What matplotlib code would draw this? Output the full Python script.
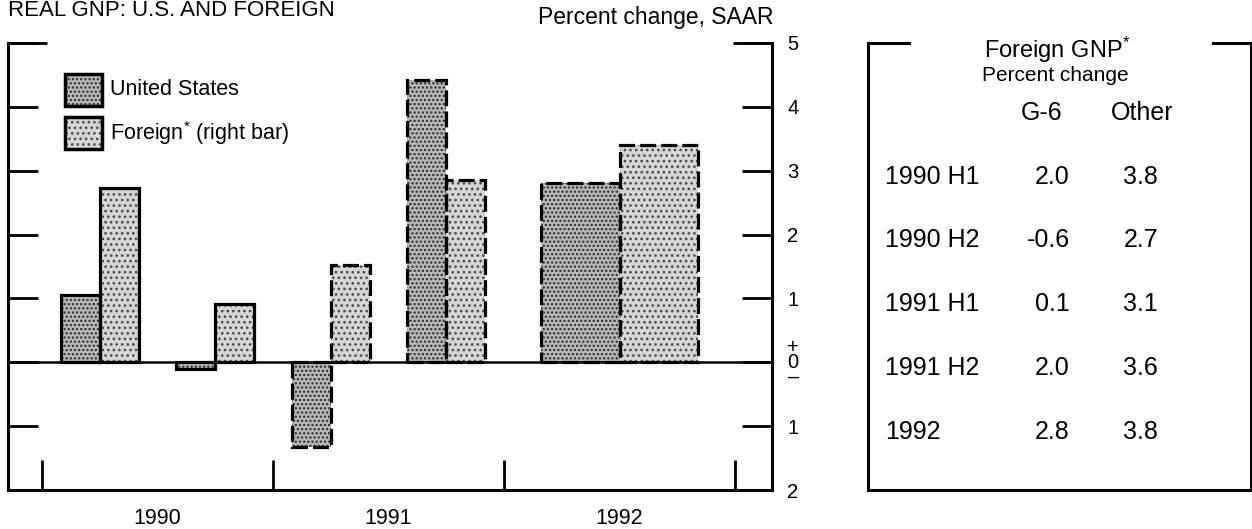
import numpy as np
import matplotlib
matplotlib.use('Agg')
import matplotlib.pyplot as plt
from matplotlib.patches import Rectangle

plt.rcParams['font.family'] = ['Liberation Sans', 'DejaVu Sans']
plt.rcParams['mathtext.default'] = 'regular'
plt.rcParams['hatch.linewidth'] = 1.1

# ----------------------------
# Data
# ----------------------------
periods = ['1990 H1', '1990 H2', '1991 H1', '1991 H2', '1992']
us_growth = [1.05, -0.1, -1.33, 4.42, 2.8]
foreign_growth = [2.73, 0.92, 1.52, 2.86, 3.4]
projected = [False, False, True, True, True]

years = ['1990', '1991', '1992']
yticks = [-2, -1, 0, 1, 2, 3, 4, 5]
ytick_labels = ['2', '1', '+\n0\n\u2013', '1', '2', '3', '4', '5']

table_rows = ['1990 H1', '1990 H2', '1991 H1', '1991 H2', '1992']
g6 = [2.0, -0.6, 0.1, 2.0, 2.8]
other = [3.8, 2.7, 3.1, 3.6, 3.8]

# period -> start (years after 1990) and length
def period_span(p):
    parts = p.split()
    start = int(parts[0]) - 1990
    if len(parts) == 1:
        return start, 1.0
    return start + (0.5 if parts[1] == 'H2' else 0.0), 0.5

spans = [period_span(p) for p in periods]
centers = np.array([s + l / 2 for s, l in spans])
widths = np.array([l * 0.338 for s, l in spans])

# ----------------------------
# Figure
# ----------------------------
W, H = 1252, 529
fig = plt.figure(figsize=(W / 100, H / 100), dpi=100)

def px_box(x0, y0, x1, y1):
    return [x0 / W, 1 - y1 / H, (x1 - x0) / W, (y1 - y0) / H]

ax = fig.add_axes(px_box(8, 43, 772, 490))
ax.set_xlim(-0.147, 3.16)
ax.set_ylim(-2, 5)

us_style = dict(facecolor='#b8b8b8', edgecolor='#2a2a2a', hatch='....', linewidth=0)
fo_style = dict(facecolor='#d6d6d6', edgecolor='#4a4a4a', hatch='...', linewidth=0)

ax.bar(centers - widths / 2, us_growth, widths, **us_style, zorder=2)
ax.bar(centers + widths / 2, foreign_growth, widths, **fo_style, zorder=2)

for i in range(len(periods)):
    ls = (0, (5, 1.6)) if projected[i] else '-'
    ax.bar(centers[i] - widths[i] / 2, us_growth[i], widths[i], fill=False,
           edgecolor='black', linewidth=2.3, linestyle=ls, zorder=3)
    ax.bar(centers[i] + widths[i] / 2, foreign_growth[i], widths[i], fill=False,
           edgecolor='black', linewidth=2.3, linestyle=ls, zorder=3)

ax.axhline(0, color='black', linewidth=1.8, zorder=4)

# spines
ax.spines['top'].set_visible(False)
for s in ['left', 'right', 'bottom']:
    ax.spines[s].set_linewidth(2.2)

# y ticks (the zero label carries the +/- signs)
ax.set_yticks(yticks)
ax.set_yticklabels(ytick_labels)
ax.tick_params(axis='y', which='major', direction='in', length=21.5, width=2,
               left=True, right=True, labelleft=False, labelright=True,
               labelsize=14.5, pad=11)
for lbl in ax.get_yticklabels(which='major'):
    if '\n' in lbl.get_text():
        lbl.set_linespacing(0.72)
        lbl.set_multialignment('center')
ax.yaxis.remove_overlapping_locs = False
ax.set_yticks([5], minor=True)
ax.tick_params(axis='y', which='minor', direction='in', length=28, width=2,
               left=True, right=True)

# x ticks: year separators + centred year labels
ax.set_xticks([i + 0.5 for i in range(len(years))])
ax.set_xticklabels(years)
ax.set_xticks(range(len(years) + 1), minor=True)
ax.tick_params(axis='x', which='major', length=0, labelsize=15.5, pad=13)
ax.tick_params(axis='x', which='minor', direction='in', length=21.5, width=2)

# legend
ax.add_patch(Rectangle((0.0746, 0.859), 0.0484, 0.0716, transform=ax.transAxes,
                       **us_style, zorder=5))
ax.add_patch(Rectangle((0.0746, 0.859), 0.0484, 0.0716, transform=ax.transAxes,
                       fill=False, edgecolor='black', linewidth=2.5, zorder=6))
ax.add_patch(Rectangle((0.0746, 0.763), 0.0484, 0.0716, transform=ax.transAxes,
                       **fo_style, zorder=5))
ax.add_patch(Rectangle((0.0746, 0.763), 0.0484, 0.0716, transform=ax.transAxes,
                       fill=False, edgecolor='black', linewidth=2.5, zorder=6))
ax.text(0.1335, 0.895, 'United States', transform=ax.transAxes, fontsize=15.5, va='center')
ax.text(0.1335, 0.799, 'Foreign$^{*}$ (right bar)', transform=ax.transAxes, fontsize=15.5, va='center')

# titles
fig.text(8 / W, 1 - 16 / H, 'REAL GNP: U.S. AND FOREIGN', fontsize=16, va='baseline')
fig.text(773 / W, 1 - 24 / H, 'Percent change, SAAR', fontsize=16.5, ha='right', va='baseline')

# ----------------------------
# Table panel
# ----------------------------
tx = fig.add_axes(px_box(868, 43, 1251, 490))
tx.set_xlim(0, 1)
tx.set_ylim(0, 1)
tx.axis('off')
lw = 2.2
tx.plot([0, 0], [0, 1], color='black', lw=lw, clip_on=False)
tx.plot([0, 1], [0, 0], color='black', lw=lw, clip_on=False)
tx.plot([1, 1], [0, 1], color='black', lw=lw, clip_on=False)
tx.plot([0, 0.107], [1, 1], color='black', lw=lw, clip_on=False)
tx.plot([0.9, 1], [1, 1], color='black', lw=lw, clip_on=False)

tx.text(0.493, 0.985, 'Foreign GNP$^{*}$', fontsize=17, ha='center', va='center')
tx.text(0.488, 0.928, 'Percent change', fontsize=15, ha='center', va='center')
tx.text(0.454, 0.843, 'G-6', fontsize=18, ha='center', va='center')
tx.text(0.715, 0.843, 'Other', fontsize=18, ha='center', va='center')

row_y = [0.700, 0.559, 0.416, 0.273, 0.130]
for i, lab in enumerate(table_rows):
    tx.text(0.044, row_y[i], lab, fontsize=18, ha='left', va='center')
    tx.text(0.527, row_y[i], f'{g6[i]:.1f}', fontsize=18, ha='right', va='center')
    tx.text(0.757, row_y[i], f'{other[i]:.1f}', fontsize=18, ha='right', va='center')

fig.savefig('out.png', dpi=100)
